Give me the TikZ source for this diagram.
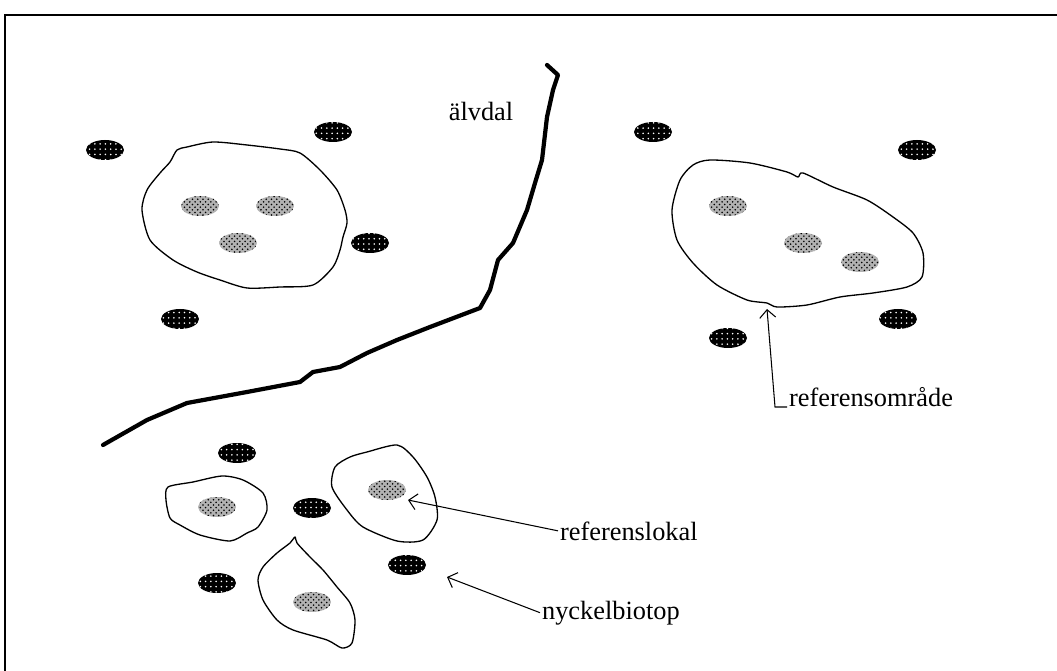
\documentclass[tikz,border=0pt]{standalone}
\usepackage{fontspec}
\setmainfont{Liberation Serif}
\usetikzlibrary{shapes.geometric,patterns,arrows.meta}

\begin{document}
\begin{tikzpicture}[x=0.02cm, y=-0.02cm,
  biotop/.style={ellipse, fill=black, minimum width=0.76cm, minimum height=0.4cm, inner sep=0pt, postaction={pattern=dots, pattern color=white}},
  lokal/.style={ellipse, fill=black!30, minimum width=0.76cm, minimum height=0.4cm, inner sep=0pt, postaction={pattern=crosshatch dots, pattern color=black}},
  omrade/.style={line width=0.75pt, line join=round},
  alv/.style={line width=2.4pt, line join=round, line cap=round},
  etikett/.style={inner sep=1pt, font=\fontsize{15}{18}\selectfont},
  pil/.style={line width=0.6pt, -{Straight Barb[length=1.6mm, width=3.2mm]}}]
  \useasboundingbox (0,0) rectangle (1057,671);
  % ram
  \draw[line width=1.1pt] (5,671) -- (5,15) -- (1057,15);
  % alvdal
  \draw[alv] (547,65) -- (558,75) -- (553,90) -- (547,117) -- (542,160) -- (535,183) -- (527,210) -- (513,243) -- (498,260) -- (490,290) -- (480,308) -- (430,327) -- (397,340) -- (367,353) -- (340,367) -- (313,372) -- (300,382) -- (247,392) -- (187,403) -- (147,420) -- (103,445);
  \node[etikett] (alvdal) at (481,111) {älvdal};
  % referensomraden
  \draw[omrade] plot[smooth cycle, tension=0.45] coordinates {(187,147) (213,142) (247,145) (280,149) (300,153) (320,170) (337,190) (345,210) (347,223) (343,237) (340,250) (333,267) (313,285) (280,287) (247,288) (220,280) (197,272) (173,260) (150,240) (142,210) (147,190) (160,173) (170,162) (177,150)};
  \draw[omrade] plot[smooth cycle, tension=0.45] coordinates {(710,160) (750,163) (787,172) (798,177) (803,173) (833,187) (867,200) (893,217) (913,233) (923,253) (922,277) (907,287) (873,293) (840,297) (807,305) (777,307) (767,303) (747,300) (717,285) (693,263) (677,240) (672,210) (680,180) (693,165)};
  \draw[omrade] plot[smooth cycle, tension=0.45] coordinates {(168,487) (193,482) (222,476) (243,480) (263,493) (267,510) (258,527) (247,533) (230,541) (200,535) (180,525) (170,518) (166,500)};
  \draw[omrade] plot[smooth cycle, tension=0.45] coordinates {(367,452) (397,445) (413,457) (427,477) (435,497) (437,520) (423,540) (397,541) (363,527) (347,510) (332,487) (335,467) (350,457)};
  \draw[omrade] plot[smooth cycle, tension=0.45] coordinates {(295,537) (297,543) (310,557) (323,570) (337,587) (350,603) (355,620) (352,643) (342,648) (327,640) (293,630) (277,620) (263,600) (258,580) (263,567) (277,553) (290,543)};
  % nyckelbiotoper
  \node[biotop] (b1) at (105,150) {};
  \node[biotop] (b2) at (333,132) {};
  \node[biotop] (b3) at (370,243) {};
  \node[biotop] (b4) at (180,319) {};
  \node[biotop] (b5) at (653,132) {};
  \node[biotop] (b6) at (917,150) {};
  \node[biotop] (b7) at (728,338) {};
  \node[biotop] (b8) at (898,319) {};
  \node[biotop] (b9) at (237,453) {};
  \node[biotop] (b10) at (312,508) {};
  \node[biotop] (b11) at (217,583) {};
  \node[biotop] (b12) at (407,565) {};
  % referenslokaler
  \node[lokal] (l1) at (200,206) {};
  \node[lokal] (l2) at (275,206) {};
  \node[lokal] (l3) at (238,243) {};
  \node[lokal] (l4) at (728,206) {};
  \node[lokal] (l5) at (803,243) {};
  \node[lokal] (l6) at (860,262) {};
  \node[lokal] (l7) at (217,507) {};
  \node[lokal] (l8) at (387,490) {};
  \node[lokal] (l9) at (312,602) {};
  % etiketter och pilar
  \node[etikett, anchor=base west] (lblOmr) at (787,407) {referensområde};
  \node[etikett, anchor=base west] (lblLokal) at (558,540) {referenslokal};
  \node[etikett, anchor=base west] (lblNyckel) at (540,619) {nyckelbiotop};
  \coordinate (omrHorn) at (775,407);
  \coordinate (omrSpets) at (767,309);
  \coordinate (lokSpets) at (408,500);
  \coordinate (nyckSpets) at (447,577);
  \draw[pil] (lblOmr.base west) -- (omrHorn) -- (omrSpets);
  \draw[pil] (lblLokal.west) -- (lokSpets);
  \draw[pil] (lblNyckel.west) -- (nyckSpets);
\end{tikzpicture}
\end{document}
